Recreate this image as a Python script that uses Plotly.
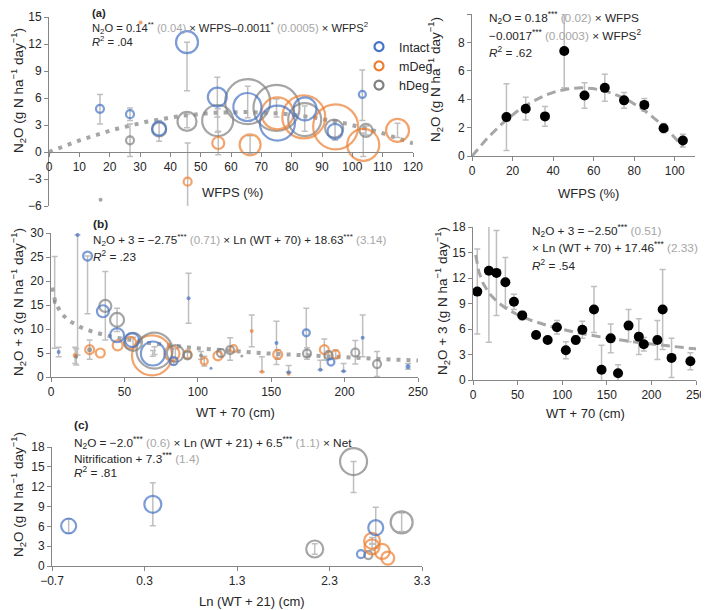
import numpy as np
import plotly.graph_objects as go

W, H = 709, 610
OFF = 8                      # page body margin of the browser
FW, FH = W - OFF, H - OFF    # figure size actually visible
BLUE = '#4472C4'; ORANGE = '#ED7D31'; GRAY = '#7F7F7F'
ERRC = '#BFBFBF'; FITC = '#A6A6A6'; TXT = '#262626'; AXC = '#868686'
FONT = 'Liberation Sans, Arial, sans-serif'

# ---------------- Panel (a) left: N2O vs WFPS (bubbles) ----------------
a_int_x = [16.8, 26.7, 36.3, 45.5, 55.5, 65.4, 75.3, 84.4, 94.3, 103.3]
a_int_y = [4.8, 4.2, 2.6, 12.2, 6.1, 5.0, 3.2, 4.8, 2.3, 6.4]
a_int_b = [4, 4, 7, 11, 9.5, 14, 17.5, 11.5, 7.5, 3.5]
a_int_ep = [1.6, 0.7, 0, 0, 2.2, 0, 0, 0, 1.2, 2.7]
a_int_em = [1.7, 0.7, 0, 5.4, 2.2, 0, 0, 0, 1.0, 2.9]

a_md_x = [30.2, 45.7, 55.8, 66.3, 75.3, 84.0, 94.5, 103.6, 114.9]
a_md_y = [14.4, -3.3, 1.0, 0.8, 4.3, 3.9, 2.8, 0.8, 2.4]
a_md_b = [2, 4, 6, 10.5, 16, 21.5, 22.5, 16, 11.5]
a_md_ep = [0, 4.3, 1.3, 1.0, 0, 0, 0, 1.3, 0.8]
a_md_em = [0, 4.3, 1.3, 1.0, 0, 0, 0, 1.3, 0.8]

a_hd_x = [17.0, 26.7, 36.3, 45.5, 55.6, 65.5, 75.0, 84.3, 94.0, 104.5]
a_hd_y = [-5.3, 1.3, 2.5, 3.4, 3.5, 5.6, 4.9, 3.6, 2.6, 2.4]
a_hd_b = [2, 4, 7, 9.5, 15.5, 22.5, 23, 16.5, 9, 6.5]
a_hd_ep = [0, 1.8, 1.0, 0.8, 1.3, 1.7, 1.0, 1.5, 0, 0.5]
a_hd_em = [0, 1.8, 1.3, 0.7, 1.3, 1.8, 1.0, 1.3, 0, 0.5]

a_fit = (0.14, 0.0011)          # N2O = b1*WFPS - b2*WFPS^2
a_xticks = list(range(0, 121, 10))
a_yticks = list(range(-6, 16, 3))

# ---------------- Panel (a) right: means ----------------
ar_x = [17, 26.5, 36, 45.5, 55.5, 65.5, 75, 85, 94.5, 104]
ar_y = [2.74, 3.33, 2.79, 7.40, 4.26, 4.80, 3.92, 3.60, 1.96, 1.09]
ar_err = [2.35, 0.8, 0.7, 2.6, 0.9, 0.95, 0.55, 0.45, 0.33, 0.45]
ar_fit = (0.178, 0.00165)
ar_xticks = [0, 20, 40, 60, 80, 100]
ar_yticks = [0, 2, 4, 6, 8, 10]

# ---------------- Panel (b) left: N2O+3 vs WT+70 (bubbles) ----------------
b_int_x = [5.2, 18.1, 24.9, 35.4, 45.0, 55.2, 69.4, 83.5, 93.7, 109.0, 153.6, 161.9, 173.9, 183.5, 190.7, 199.3, 212.3, 243.2]
b_int_y = [5.2, 29.6, 25.2, 13.7, 8.7, 7.7, 4.9, 3.3, 16.4, 1.8, 7.1, 1.0, 9.2, 1.5, 3.1, 1.2, 8.2, 2.2]
b_int_b = [2, 2, 4.5, 6, 7, 7, 12, 4, 2, 1.5, 2, 2, 3.5, 2, 3.5, 2, 2, 2.5]
b_int_ep = [1.0, 0, 0, 0, 0, 0, 0.6, 0.7, 5.2, 0, 4.5, 1.4, 5.1, 2.0, 0, 1.6, 4.7, 0.6]
b_int_em = [1.0, 25, 12, 0, 0, 0, 0.6, 0.7, 5.2, 0, 4.5, 0, 5.0, 0, 0, 0, 4.0, 0.6]

b_md_x = [16.5, 26.3, 33.6, 45.4, 54.0, 68.8, 82.4, 93.0, 104.4, 113.7, 124.4, 136.7, 143.7, 154.4, 161.9, 186.2, 193.9]
b_md_y = [4.5, 5.7, 5.0, 6.6, 7.1, 4.5, 4.9, 4.7, 3.3, 4.4, 5.9, 9.6, 1.1, 4.7, 0.7, 5.7, 4.7]
b_md_b = [2.5, 4.5, 4.5, 5, 6, 20, 7.5, 4, 3.5, 4.5, 3.5, 2, 2, 4.5, 2, 4.5, 4]
b_md_ep = [1.7, 0, 0, 0, 0, 0, 0, 0, 1.0, 0, 0, 3.3, 3.1, 1.0, 0, 2.2, 0.9]
b_md_em = [1.7, 0, 0, 0, 0, 0, 0, 0, 1.0, 0, 0, 3.3, 0, 1.0, 0, 2.2, 0.9]

b_hd_x = [2.5, 17.2, 26.3, 37.0, 45.0, 55.9, 70.5, 84.7, 93.0, 102.2, 115.8, 122.0, 130.0, 174.4, 189.1, 207.3, 222.1]
b_hd_y = [15.6, 4.2, 5.7, 14.8, 11.9, 7.3, 5.5, 4.9, 4.5, 4.5, 5.0, 5.6, 4.4, 4.9, 4.5, 5.1, 2.7]
b_hd_b = [2, 2, 2.5, 6, 7, 9, 18, 8.5, 4, 2, 4, 4, 1.5, 4, 4, 4, 4]
b_hd_ep = [9.5, 1.7, 2.0, 7.2, 2.4, 1.0, 0.8, 1.0, 0.7, 0.8, 0.8, 2.6, 0, 1.2, 0.9, 2.5, 2.6]
b_hd_em = [9.6, 1.7, 2.0, 7.1, 2.4, 1.0, 0.8, 1.0, 0.7, 0.8, 0.8, 2.1, 0, 1.2, 0.9, 2.4, 2.6]

b_fit = (2.75, 18.63)           # N2O+3 = -a*ln(WT+70) + c
b_xticks = [0, 50, 100, 150, 200, 250]
b_yticks = [0, 5, 10, 15, 20, 25, 30]

# ---------------- Panel (b) right: means ----------------
br_x = [4.8, 17.8, 26.3, 36.3, 45.9, 55.2, 70.7, 83.7, 94.1, 104.1, 115.2, 122.6, 135.6, 144.1, 154.4, 162.6, 174.4, 185.9, 191.5, 206.7, 212.6, 222.6, 243.7]
br_y = [10.4, 12.85, 12.6, 11.5, 9.2, 7.6, 5.3, 4.7, 6.2, 3.5, 4.7, 5.9, 8.3, 1.2, 4.9, 0.8, 6.4, 5.1, 4.2, 4.7, 8.3, 2.6, 2.2]
br_err = [5.0, 8.4, 5.0, 2.9, 0.9, 0.5, 0, 0, 0.8, 1.0, 0.5, 1.0, 2.7, 2.9, 1.7, 1.0, 1.9, 2.1, 0.8, 2.3, 4.7, 2.3, 1.0]
br_fit = (2.50, 17.46)
br_yticks = [0, 3, 6, 9, 12, 15, 18]

# ---------------- Panel (c) ----------------
c_int_x = [-0.52, 0.39, 2.80, 2.64]
c_int_y = [6.05, 9.33, 5.8, 1.8]
c_int_b = [7.5, 8.5, 7.5, 4]
c_int_ep = [1.1, 3.25, 3.1, 0]
c_int_em = [1.1, 3.25, 3.1, 0]

c_md_x = [2.76, 2.76, 2.87, 2.93]
c_md_y = [3.8, 2.9, 2.2, 1.2]
c_md_b = [8, 7.5, 7.5, 6.5]
c_md_ep = [0.5, 0.5, 0, 0]
c_md_em = [0.5, 0.5, 0, 0]

c_hd_x = [2.14, 2.56, 3.08, 2.72]
c_hd_y = [2.57, 15.8, 6.6, 1.65]
c_hd_b = [8.5, 13.5, 11, 4]
c_hd_ep = [0.8, 0, 1.4, 0]
c_hd_em = [0.8, 4.7, 1.4, 0]
c_xticks = [-0.7, 0.3, 1.3, 2.3, 3.3]
c_yticks = [0, 3, 6, 9, 12, 15, 18]

# ---------------- helpers (window pixels -> paper fractions) ----------------
def px_x(p):
    return (p - OFF) / FW

def px_y(p):
    return 1 - (p - OFF) / FH

def bubbles(x, y, b, color, xa, ya):
    sym = ['circle' if v <= 2.5 else 'circle-open' for v in b]
    lw = [0 if v <= 2.5 else 2.2 for v in b]
    return go.Scatter(x=x, y=y, mode='markers', xaxis=xa, yaxis=ya, showlegend=False,
                      hoverinfo='skip',
                      marker=dict(size=b, sizemode='diameter', sizeref=0.5, symbol=sym,
                                  color=color, line=dict(color=color, width=lw)))

def errs(x, y, ep, em, xa, ya):
    idx = [i for i in range(len(x)) if ep[i] > 0 or em[i] > 0]
    return go.Scatter(x=[x[i] for i in idx], y=[y[i] for i in idx], mode='markers',
                      xaxis=xa, yaxis=ya, showlegend=False, hoverinfo='skip',
                      marker=dict(size=1, opacity=0),
                      error_y=dict(type='data', symmetric=False,
                                   array=[ep[i] for i in idx], arrayminus=[em[i] for i in idx],
                                   color=ERRC, thickness=1.5, width=3))

fig = go.Figure()

# (a) left
for x, y, ep, em in [(a_int_x, a_int_y, a_int_ep, a_int_em), (a_md_x, a_md_y, a_md_ep, a_md_em),
                     (a_hd_x, a_hd_y, a_hd_ep, a_hd_em)]:
    fig.add_trace(errs(x, y, ep, em, 'x', 'y'))
xf = np.linspace(0, 120, 200)
fig.add_trace(go.Scatter(x=xf, y=a_fit[0] * xf - a_fit[1] * xf ** 2, mode='lines', xaxis='x', yaxis='y',
                         showlegend=False, hoverinfo='skip',
                         line=dict(color=FITC, width=4, dash='4px,6px')))
fig.add_trace(bubbles(a_hd_x, a_hd_y, a_hd_b, GRAY, 'x', 'y'))
fig.add_trace(bubbles(a_md_x, a_md_y, a_md_b, ORANGE, 'x', 'y'))
fig.add_trace(bubbles(a_int_x, a_int_y, a_int_b, BLUE, 'x', 'y'))
for nm, col in [('Intact', BLUE), ('mDeg', ORANGE), ('hDeg', GRAY)]:
    fig.add_trace(go.Scatter(x=[None], y=[None], mode='markers', name=nm, xaxis='x', yaxis='y',
                             marker=dict(symbol='circle-open', size=9, color=col,
                                         line=dict(color=col, width=2.2))))

# (a) right
fig.add_trace(go.Scatter(x=ar_x, y=ar_y, mode='markers', xaxis='x2', yaxis='y2', showlegend=False,
                         hoverinfo='skip', marker=dict(size=1, opacity=0),
                         error_y=dict(type='data', array=ar_err, color=ERRC, thickness=1.5, width=3)))
xf = np.linspace(0, 104, 200)
fig.add_trace(go.Scatter(x=xf, y=ar_fit[0] * xf - ar_fit[1] * xf ** 2, mode='lines', xaxis='x2', yaxis='y2',
                         showlegend=False, hoverinfo='skip',
                         line=dict(color=FITC, width=3, dash='9px,5px')))
fig.add_trace(go.Scatter(x=ar_x, y=ar_y, mode='markers', xaxis='x2', yaxis='y2', showlegend=False,
                         hoverinfo='skip', marker=dict(size=10, color='black')))

# (b) left
for x, y, ep, em in [(b_int_x, b_int_y, b_int_ep, b_int_em), (b_md_x, b_md_y, b_md_ep, b_md_em),
                     (b_hd_x, b_hd_y, b_hd_ep, b_hd_em)]:
    fig.add_trace(errs(x, y, ep, em, 'x3', 'y3'))
xf = np.linspace(1, 250, 300)
fig.add_trace(go.Scatter(x=xf, y=-b_fit[0] * np.log(xf) + b_fit[1], mode='lines', xaxis='x3', yaxis='y3',
                         showlegend=False, hoverinfo='skip',
                         line=dict(color=FITC, width=4, dash='4px,6px')))
fig.add_trace(bubbles(b_md_x, b_md_y, b_md_b, ORANGE, 'x3', 'y3'))
fig.add_trace(bubbles(b_hd_x, b_hd_y, b_hd_b, GRAY, 'x3', 'y3'))
fig.add_trace(bubbles(b_int_x, b_int_y, b_int_b, BLUE, 'x3', 'y3'))

# (b) right
fig.add_trace(go.Scatter(x=br_x, y=br_y, mode='markers', xaxis='x4', yaxis='y4', showlegend=False,
                         hoverinfo='skip', marker=dict(size=1, opacity=0),
                         error_y=dict(type='data', array=br_err, color=ERRC, thickness=1.5, width=3)))
xf = np.linspace(3, 250, 300)
fig.add_trace(go.Scatter(x=xf, y=-br_fit[0] * np.log(xf) + br_fit[1], mode='lines', xaxis='x4', yaxis='y4',
                         showlegend=False, hoverinfo='skip',
                         line=dict(color=FITC, width=3, dash='9px,5px')))
fig.add_trace(go.Scatter(x=br_x, y=br_y, mode='markers', xaxis='x4', yaxis='y4', showlegend=False,
                         hoverinfo='skip', marker=dict(size=10, color='black')))

# (c)
for x, y, ep, em in [(c_int_x, c_int_y, c_int_ep, c_int_em), (c_md_x, c_md_y, c_md_ep, c_md_em),
                     (c_hd_x, c_hd_y, c_hd_ep, c_hd_em)]:
    fig.add_trace(errs(x, y, ep, em, 'x5', 'y5'))
fig.add_trace(bubbles(c_hd_x, c_hd_y, c_hd_b, GRAY, 'x5', 'y5'))
fig.add_trace(bubbles(c_md_x, c_md_y, c_md_b, ORANGE, 'x5', 'y5'))
fig.add_trace(bubbles(c_int_x, c_int_y, c_int_b, BLUE, 'x5', 'y5'))

# ---------------- axes ----------------
def ax(dom_px, rng, ticks, **kw):
    d = dict(domain=[dom_px[0], dom_px[1]], range=rng, tickvals=ticks, showline=True, linecolor=AXC,
             linewidth=1, ticks='outside', ticklen=4, tickcolor=AXC, showgrid=False, zeroline=False,
             tickfont=dict(size=12, color=TXT, family=FONT), fixedrange=True, automargin=False)
    d.update(kw)
    return d

def xdom(a, b):
    return (px_x(a), px_x(b))

def ydom(top, bot):
    return (px_y(bot), px_y(top))

a_top, a_bot = 17, 206
a_zero_paper = px_y(a_bot) + (0 - (-6)) / 21 * (px_y(a_top) - px_y(a_bot))

fig.update_layout(
    xaxis=ax(xdom(49, 413), [0, 120], a_xticks, anchor='free', position=a_zero_paper),
    yaxis=ax(ydom(a_top, a_bot), [-6, 15], a_yticks, anchor='x'),
    xaxis2=ax(xdom(472, 695), [0, 110], ar_xticks, anchor='y2'),
    yaxis2=ax(ydom(14, 156), [0, 10], ar_yticks, anchor='x2'),
    xaxis3=ax(xdom(51, 418), [0, 250], b_xticks, anchor='y3'),
    yaxis3=ax(ydom(233, 377), [0, 30], b_yticks, anchor='x3'),
    xaxis4=ax(xdom(473, 696), [0, 250], b_xticks, anchor='y4'),
    yaxis4=ax(ydom(227, 380), [0, 18], br_yticks, anchor='x4'),
    xaxis5=ax(xdom(52, 422), [-0.7, 3.3], c_xticks, anchor='y5', tickformat='.1f'),
    yaxis5=ax(ydom(447, 566), [0, 18], c_yticks, anchor='x5'),
)

# ---------------- annotations ----------------
def se(t):
    return f"<span style='color:{FITC}'>{t}</span>"

anns = []
def text(xp, yp, s, size=11.8, anchor='left', angle=0):
    anns.append(dict(x=px_x(xp), y=px_y(yp), xref='paper', yref='paper', text=s, showarrow=False,
                     xanchor=anchor, yanchor='middle', textangle=angle, align='left',
                     font=dict(size=size, color=TXT, family=FONT)))

ytitle = "N<sub>2</sub>O (g N ha<sup>−1</sup> day<sup>−1</sup>)"
ytitle3 = "N<sub>2</sub>O + 3 (g N ha<sup>−1</sup> day<sup>−1</sup>)"

text(90, 28, "<b>(a)</b><br>N<sub>2</sub>O = 0.14<sup>**</sup> " + se("(0.04)") + " × WFPS–0.0011<sup>*</sup> "
     + se("(0.0005)") + " × WFPS<sup>2</sup><br><i>R</i><sup>2</sup> = .04", size=11.2)
text(18, 91, ytitle, size=13.5, anchor='center', angle=-90)
text(232, 192, "WFPS (%)", size=13, anchor='center')

text(487, 18, "N<sub>2</sub>O = 0.18<sup>***</sup> " + se("(0.02)") + " × WFPS")
text(487, 35, "−0.0017<sup>***</sup> " + se("(0.0003)") + " × WFPS<sup>2</sup>")
text(487, 53, "<i>R</i><sup>2</sup> = .62")
text(435, 80, ytitle, size=13.5, anchor='center', angle=-90)
text(588, 193, "WFPS (%)", size=13, anchor='center')

text(91, 224, "<b>(b)</b>")
text(91, 240, "N<sub>2</sub>O + 3 = −2.75<sup>***</sup> " + se("(0.71)") + " × Ln (WT + 70) + 18.63<sup>***</sup> "
     + se("(3.14)"), size=11.6)
text(91, 256, "<i>R</i><sup>2</sup> = .23")
text(18, 302, ytitle3, size=13.5, anchor='center', angle=-90)
text(235, 412, "WT + 70 (cm)", size=13, anchor='center')

text(530, 231, "N<sub>2</sub>O + 3 = −2.50<sup>***</sup> " + se("(0.51)"))
text(530, 247, "× Ln (WT + 70) + 17.46<sup>***</sup> " + se("(2.33)"))
text(530, 265, "<i>R</i><sup>2</sup> = .54")
text(442, 301, ytitle3, size=13.5, anchor='center', angle=-90)
text(585, 413, "WT + 70 (cm)", size=13, anchor='center')

text(72, 425, "<b>(c)</b>")
text(72, 443, "N<sub>2</sub>O = −2.0<sup>***</sup> " + se("(0.6)") + " × Ln (WT + 21) + 6.5<sup>***</sup> "
     + se("(1.1)") + " × Net")
text(72, 458, "Nitrification + 7.3<sup>***</sup> " + se("(1.4)"))
text(72, 472, "<i>R</i><sup>2</sup> = .81")
text(18, 495, ytitle, size=13.5, anchor='center', angle=-90)
text(252, 601, "Ln (WT + 21) (cm)", size=13, anchor='center')

fig.update_layout(
    annotations=anns,
    width=FW, height=FH, margin=dict(l=0, r=0, t=0, b=0, pad=0, autoexpand=False),
    paper_bgcolor='white', plot_bgcolor='white',
    font=dict(family=FONT, color=TXT, size=12),
    showlegend=True,
    legend=dict(x=px_x(359), y=px_y(32), xanchor='left', yanchor='top', bgcolor='rgba(0,0,0,0)',
                font=dict(size=12.5, color=TXT, family=FONT), itemwidth=30, tracegroupgap=0,
                borderwidth=0),
)

fig.write_html("out.html")
